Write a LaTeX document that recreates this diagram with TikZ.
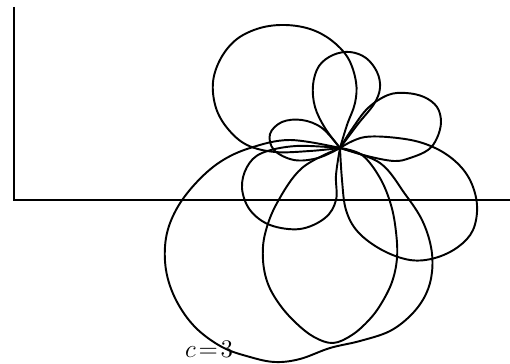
\documentclass[tikz,border=0pt]{standalone}
\begin{document}
\begin{tikzpicture}[x=0.02cm,y=-0.02cm]
        \useasboundingbox (0,0) rectangle (510,364);
        \tikzset{petal/.style={line width=1.1pt},
                 axis/.style={line width=1.6pt}}
        \coordinate (P) at (340,148);
        \coordinate (origin) at (14,200);
        \coordinate (ytop) at (14,7);
        \coordinate (xend) at (512,200);

        % axes
        \draw[axis] (ytop) -- (origin) -- (xend);

        % upper left loop
        \draw[petal] plot[smooth, tension=0.6] coordinates {(P) (347,125) (355,103) (356,82) (348,58) (331,40) (310,29) (285,25) (260,28) (237,39) (221,58) (213,82) (216,108) (228,129) (247,145) (275,152) (310,151) (P)};
        % upper loop
        \draw[petal] plot[smooth, tension=0.6] coordinates {(P) (325,128) (315,107) (313,85) (319,66) (333,55) (350,52) (366,58) (377,72) (380,88) (374,104) (358,124) (P)};
        % upper right loop
        \draw[petal] plot[smooth, tension=0.6] coordinates {(P) (352,129) (368,108) (388,95) (406,93) (424,97) (437,107) (441,122) (437,138) (428,150) (410,158) (394,161) (367,156) (P)};
        % right loop
        \draw[petal] plot[smooth, tension=0.6] coordinates {(P) (365,137) (405,139) (433,147) (455,161) (470,180) (477,205) (473,230) (458,247) (435,258) (410,260) (382,250) (358,232) (346,210) (342,180) (P)};
        % left loop
        \draw[petal] plot[smooth, tension=0.6] coordinates {(P) (322,128) (302,120) (282,122) (270,134) (274,150) (294,160) (318,158) (P)};
        % lower left loop
        \draw[petal] plot[smooth, tension=0.6] coordinates {(P) (336,175) (336,200) (325,218) (300,229) (270,225) (250,210) (242,188) (247,167) (262,153) (296,146) (P)};
        % lower loop
        \draw[petal] plot[smooth, tension=0.6] coordinates {(P) (362,155) (380,178) (391,205) (396,232) (397,258) (392,282) (381,304) (369,320) (352,335) (333,343) (314,337) (296,323) (280,305) (268,284) (263,260) (265,234) (277,203) (302,168) (P)};
        % big loop
        \draw[petal] plot[smooth, tension=0.6] coordinates {(P) (380,163) (405,194) (422,220) (431,247) (432,272) (426,294) (412,314) (390,331) (360,341) (330,348) (300,359) (275,362) (250,357) (222,347) (195,327) (176,300) (166,270) (166,238) (176,210) (195,184) (220,162) (250,148) (290,140) (P)};

        \node[anchor=base] (label) at (209,357) {\fontsize{14}{16}\selectfont $c\mkern2mu{=}\mkern2mu3$};
      \end{tikzpicture}
\end{document}
